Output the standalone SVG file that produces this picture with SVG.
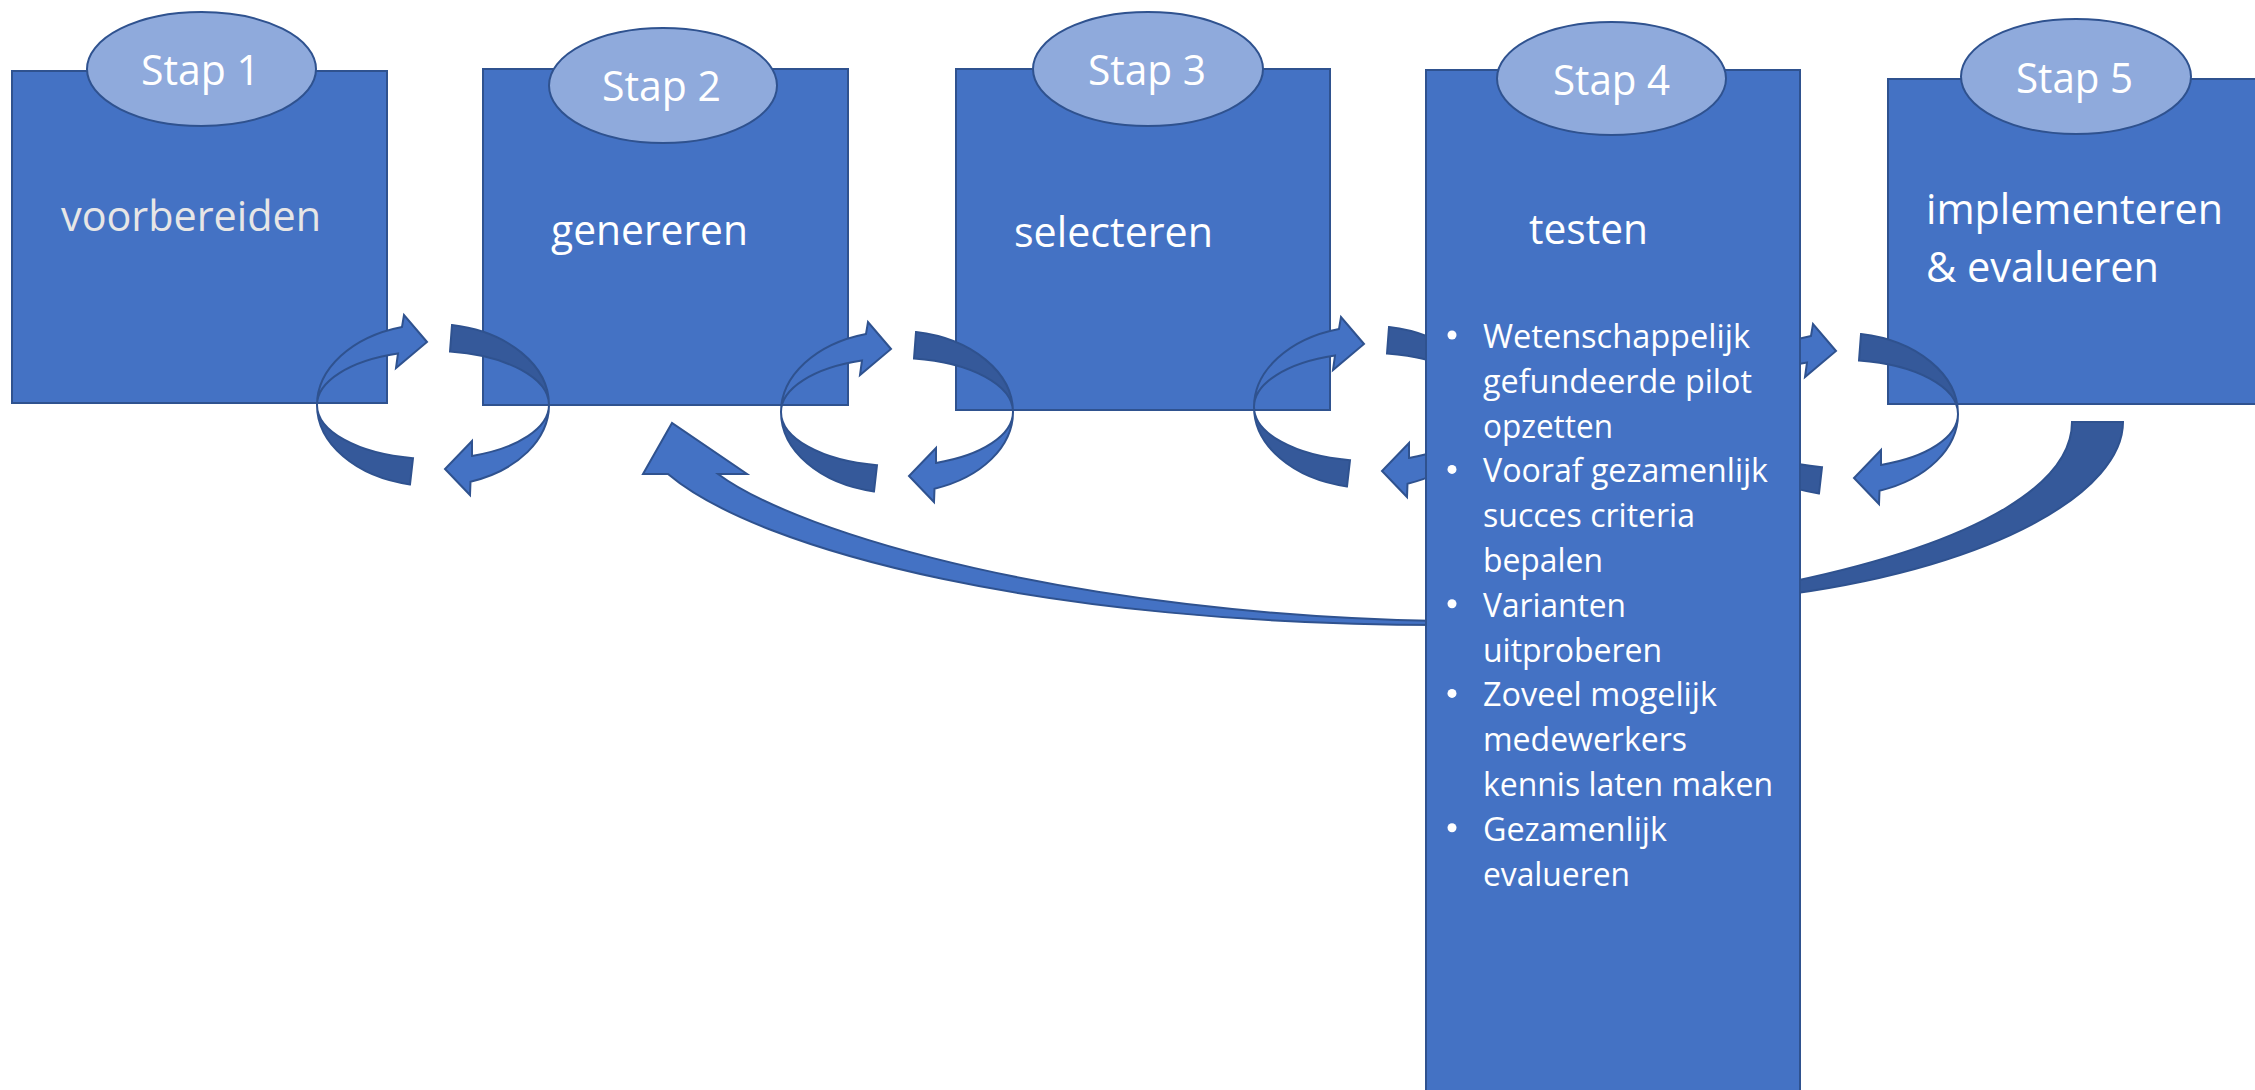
<svg xmlns="http://www.w3.org/2000/svg" width="2255" height="1090" viewBox="0 0 2255 1090">
<defs>
<style>
.box{fill:#4472c4;stroke:#2f528f;stroke-width:2}
.oval{fill:#8faadc;stroke:#2f528f;stroke-width:2}
.lbl{font-family:'Open Sans','Liberation Sans',sans-serif;font-size:42px;fill:#ffffff}
.bul{font-family:'Open Sans','Liberation Sans',sans-serif;font-size:33px;fill:#ffffff}
.dot{fill:#ffffff}
.lt{fill:#4472c4;stroke:#2f528f;stroke-width:2}
.dk{fill:#35599a;stroke:#2f528f;stroke-width:2}
</style>
<g id="ring">
<path class="dk" d="M -116 0 A 116 81 0 0 0 -23 79.4 L -20 53.2 A 116 54 0 0 1 -116 0 Z"/>
<path class="dk" d="M 19 -79.9 A 116 81 0 0 1 116 0 A 116 54 0 0 0 17 -53.4 Z"/>
<path class="lt" d="M -116 0 A 116 81 0 0 1 -31 -78.05 L -29 -90 L -6 -63 L -37 -37 L -35 -51.5 A 116 54 0 0 0 -116 0 Z"/>
<path class="lt" d="M 116 0 A 116 81 0 0 1 37.5 76.7 L 37 90 L 12 64 L 39 36 L 39 50.9 A 116 54 0 0 0 116 0 Z"/>
</g>
</defs>
<rect width="2255" height="1090" fill="#ffffff"/>

<g id="stap1">
<rect class="box" x="12" y="71" width="375" height="332"/>
<ellipse class="oval" cx="201.5" cy="69" rx="114.5" ry="57"/>
<text class="lbl" x="141" y="85" textLength="119" lengthAdjust="spacingAndGlyphs">Stap 1</text>
<text class="lbl" x="61" y="231" textLength="260" lengthAdjust="spacingAndGlyphs" style="fill:#e7e6e6">voorbereiden</text>
</g>

<g id="stap2">
<rect class="box" x="483" y="69" width="365" height="336"/>
<ellipse class="oval" cx="663" cy="85.5" rx="114" ry="57.5"/>
<text class="lbl" x="602" y="101" textLength="119" lengthAdjust="spacingAndGlyphs">Stap 2</text>
<text class="lbl" x="551" y="245" textLength="197" lengthAdjust="spacingAndGlyphs">genereren</text>
</g>

<g id="stap3">
<rect class="box" x="956" y="69" width="374" height="341"/>
<ellipse class="oval" cx="1148" cy="69" rx="115" ry="57"/>
<text class="lbl" x="1088" y="85" textLength="118" lengthAdjust="spacingAndGlyphs">Stap 3</text>
<text class="lbl" x="1014" y="247" textLength="199" lengthAdjust="spacingAndGlyphs">selecteren</text>
</g>

<g id="stap5">
<rect class="box" x="1888" y="79" width="380" height="325"/>
<ellipse class="oval" cx="2076" cy="76.5" rx="115" ry="57.5"/>
<text class="lbl" x="2016" y="93" textLength="117" lengthAdjust="spacingAndGlyphs">Stap 5</text>
<text class="lbl" x="1926" y="224" textLength="297" lengthAdjust="spacingAndGlyphs">implementeren</text>
<text class="lbl" x="1926" y="282" textLength="233" lengthAdjust="spacingAndGlyphs">&amp; evalueren</text>
</g>

<g id="connectors">
<use href="#ring" transform="translate(433,405)"/>
<use href="#ring" transform="translate(897,412)"/>
<use href="#ring" transform="translate(1370,407)"/>
<use href="#ring" transform="translate(1842,414)"/>
<path class="dk" d="M 2072 422 L 2123 422 C 2123 490 2000 565 1790 594 L 1790 582 C 1990 540 2072 480 2072 422 Z"/>
<path class="lt" d="M 668 474 L 643 474 L 672 423 L 747 474 L 718 474 C 800 535 1080 615 1440 621 L 1440 625 C 1050 625 760 552 668 474 Z"/>
</g>

<g id="stap4">
<rect class="box" x="1426" y="70" width="374" height="1040"/>
<ellipse class="oval" cx="1611.5" cy="78.5" rx="114.5" ry="56.5"/>
<text class="lbl" x="1553" y="95" textLength="117" lengthAdjust="spacingAndGlyphs">Stap 4</text>
<text class="lbl" x="1529" y="244" textLength="119" lengthAdjust="spacingAndGlyphs">testen</text>
<circle class="dot" cx="1452" cy="335" r="4.5"/>
<circle class="dot" cx="1452" cy="469.4" r="4.5"/>
<circle class="dot" cx="1452" cy="603.8" r="4.5"/>
<circle class="dot" cx="1452" cy="693.4" r="4.5"/>
<circle class="dot" cx="1452" cy="827.8" r="4.5"/>
<text class="bul" x="1483" y="348" textLength="267" lengthAdjust="spacingAndGlyphs">Wetenschappelijk</text>
<text class="bul" x="1483" y="392.8" textLength="269" lengthAdjust="spacingAndGlyphs">gefundeerde pilot</text>
<text class="bul" x="1483" y="437.6" textLength="130" lengthAdjust="spacingAndGlyphs">opzetten</text>
<text class="bul" x="1483" y="482.4" textLength="285" lengthAdjust="spacingAndGlyphs">Vooraf gezamenlijk</text>
<text class="bul" x="1483" y="527.2" textLength="212" lengthAdjust="spacingAndGlyphs">succes criteria</text>
<text class="bul" x="1483" y="572" textLength="120" lengthAdjust="spacingAndGlyphs">bepalen</text>
<text class="bul" x="1483" y="616.8" textLength="143" lengthAdjust="spacingAndGlyphs">Varianten</text>
<text class="bul" x="1483" y="661.6" textLength="179" lengthAdjust="spacingAndGlyphs">uitproberen</text>
<text class="bul" x="1483" y="706.4" textLength="234" lengthAdjust="spacingAndGlyphs">Zoveel mogelijk</text>
<text class="bul" x="1483" y="751.2" textLength="204" lengthAdjust="spacingAndGlyphs">medewerkers</text>
<text class="bul" x="1483" y="796" textLength="290" lengthAdjust="spacingAndGlyphs">kennis laten maken</text>
<text class="bul" x="1483" y="840.8" textLength="184" lengthAdjust="spacingAndGlyphs">Gezamenlijk</text>
<text class="bul" x="1483" y="885.6" textLength="147" lengthAdjust="spacingAndGlyphs">evalueren</text>
</g>
</svg>
